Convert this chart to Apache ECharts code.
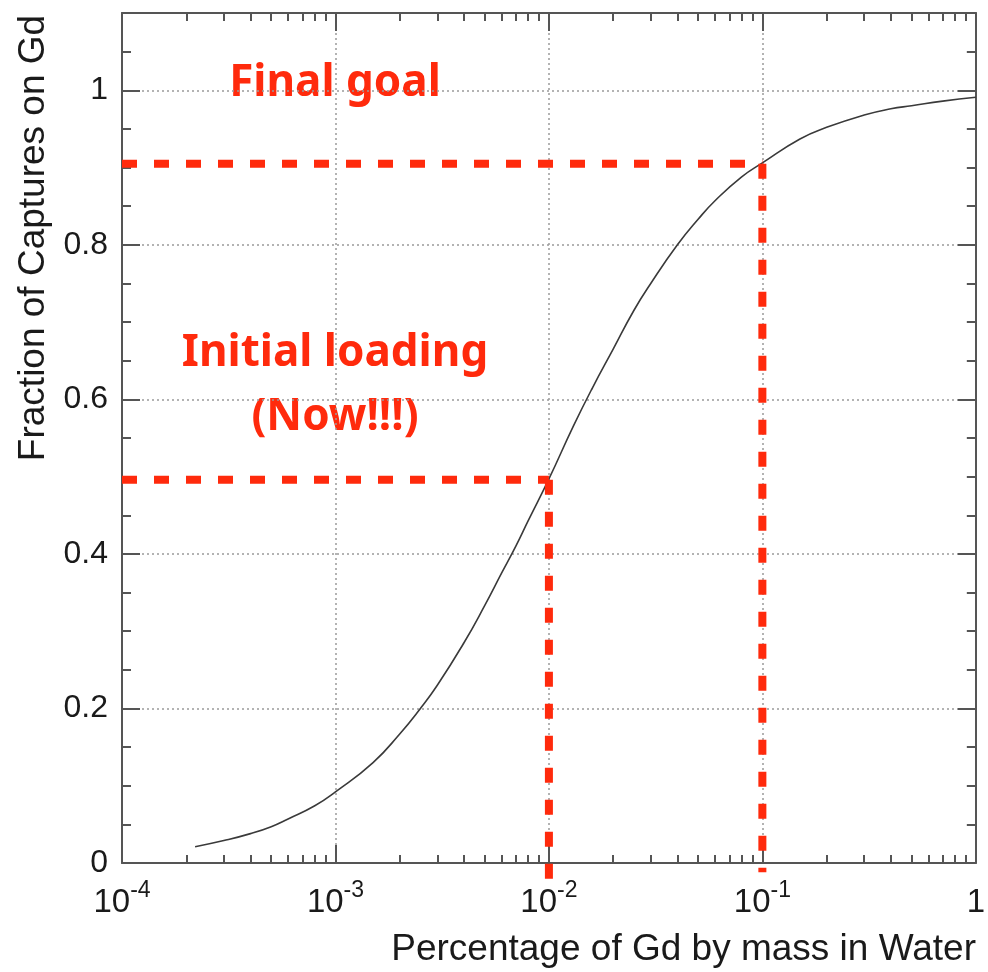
<!DOCTYPE html>
<html>
<head>
<meta charset="utf-8">
<script src="https://cdn.jsdelivr.net/npm/echarts@6/dist/echarts.min.js"></script>
<style>html,body{margin:0;padding:0;background:#fff}#c{width:988px;height:972px}</style>
</head>
<body>
<div id="c"></div>
<script>
// ---- data ----
const massPct = [2.2e-4, 3e-4, 4e-4, 5e-4, 6e-4, 8e-4, 1e-3, 1.5e-3, 2e-3, 2.5e-3, 3e-3, 4e-3, 5e-3, 6e-3, 7e-3, 8e-3, 1e-2, 1.3e-2, 1.6e-2, 2e-2, 2.5e-2, 3e-2, 4e-2, 5e-2, 6e-2, 8e-2, 0.1, 0.15, 0.2, 0.3, 0.4, 0.5, 0.7, 1];
const captureFrac = [0.021, 0.029, 0.038, 0.047, 0.057, 0.074, 0.092, 0.13, 0.167, 0.2, 0.23, 0.285, 0.333, 0.375, 0.41, 0.443, 0.497, 0.565, 0.615, 0.665, 0.715, 0.75, 0.8, 0.833, 0.857, 0.888, 0.906, 0.937, 0.952, 0.968, 0.976, 0.98, 0.986, 0.991];
const goalPoint = [0.1, 0.905];
const nowPoint = [0.01, 0.496];
const majorX = [1e-4, 1e-3, 1e-2, 1e-1, 1];
const minorX = [];
[1e-4, 1e-3, 1e-2, 1e-1].forEach(d => { for (let k = 2; k <= 9; k++) minorX.push(d * k); });
const majorY = [0, 0.2, 0.4, 0.6, 0.8, 1.0];
const minorY = [0.05, 0.1, 0.15, 0.25, 0.3, 0.35, 0.45, 0.5, 0.55, 0.65, 0.7, 0.75, 0.85, 0.9, 0.95, 1.05];
const xTitle = 'Percentage of Gd by mass in Water';
const yTitle = 'Fraction of Captures on Gd';
const noteGoal = 'Final goal';
const noteNow1 = 'Initial loading';
const noteNow2 = '(Now!!!)';

const FONT = 'Liberation Sans';
const RED = '#ff2a0c';
const AX = '#555';

function xAxisDef(pos, major, showLabel) {
  return {
    type: 'log', logBase: 10, min: 1e-4, max: 1, position: pos,
    axisLine: { show: major, onZero: false, lineStyle: { color: AX, width: 2 } },
    axisTick: { show: true, inside: true, length: major ? 18 : 8, customValues: major ? majorX : minorX, lineStyle: { color: AX, width: 2 } },
    minorTick: { show: false },
    splitLine: { show: major && showLabel, lineStyle: { color: '#9a9a9a', type: [2, 3], width: 1.5 } },
    axisLabel: showLabel ? {
      show: true, margin: 16, customValues: majorX,
      formatter: v => { const e = Math.round(Math.log10(v)); return e === 0 ? '{n|1}' : '{n|10}{s|' + e + '}'; },
      rich: {
        n: { fontSize: 33, fontFamily: FONT, color: '#1a1a1a', lineHeight: 40, verticalAlign: 'bottom' },
        s: { fontSize: 23, fontFamily: FONT, color: '#1a1a1a', lineHeight: 40, verticalAlign: 'top', padding: [0, 0, 14, 0] }
      }
    } : { show: false }
  };
}
function yAxisDef(pos, major, showLabel) {
  return {
    type: 'value', min: 0, max: 1.1, position: pos,
    axisLine: { show: major, onZero: false, lineStyle: { color: AX, width: 2 } },
    axisTick: { show: true, inside: true, length: major ? 18 : 9, customValues: major ? majorY : minorY, lineStyle: { color: AX, width: 2 } },
    minorTick: { show: false },
    splitLine: { show: major && showLabel, lineStyle: { color: '#9a9a9a', type: [2, 3], width: 1.5 } },
    axisLabel: showLabel ? {
      show: true, margin: 14, customValues: majorY, fontSize: 32, fontFamily: FONT, color: '#1a1a1a',
      formatter: v => String(+v.toFixed(1))
    } : { show: false }
  };
}

const chart = echarts.init(document.getElementById('c'), null, { renderer: 'canvas' });
const dashStyle = { color: RED, width: 8, type: [15, 17], dashOffset: 0 };
const noteStyle = { fontSize: 44, fontWeight: 'bold', fontFamily: 'Noto Sans', fill: RED, align: 'center', verticalAlign: 'middle' };
chart.setOption({
  animation: false,
  backgroundColor: '#fff',
  grid: { left: 122, right: 12, top: 13, bottom: 109, containLabel: false },
  xAxis: [xAxisDef('bottom', true, true), xAxisDef('bottom', false, false), xAxisDef('top', true, false), xAxisDef('top', false, false)],
  yAxis: [yAxisDef('left', true, true), yAxisDef('left', false, false), yAxisDef('right', true, false), yAxisDef('right', false, false)],
  series: [
    {
      type: 'line', xAxisIndex: 0, yAxisIndex: 0, smooth: true, symbol: 'none',
      lineStyle: { color: '#3a3a3a', width: 1.6 },
      data: massPct.map((x, i) => [x, captureFrac[i]])
    },
    { type: 'line', symbol: 'none', clip: false, lineStyle: dashStyle, data: [[1e-4, goalPoint[1]], [goalPoint[0], goalPoint[1]]] },
    { type: 'line', symbol: 'none', clip: false, lineStyle: dashStyle, data: [[goalPoint[0], goalPoint[1]], [goalPoint[0], -0.012]] },
    { type: 'line', symbol: 'none', clip: false, lineStyle: dashStyle, data: [[1e-4, nowPoint[1]], [nowPoint[0], nowPoint[1]]] },
    { type: 'line', symbol: 'none', clip: false, lineStyle: dashStyle, data: [[nowPoint[0], nowPoint[1]], [nowPoint[0], -0.032]] }
  ],
  graphic: [
    { type: 'text', x: 976, y: 950, style: { text: xTitle, fontSize: 37, fontFamily: FONT, fill: '#1a1a1a', align: 'right', verticalAlign: 'middle' } },
    { type: 'text', x: 34, y: 238, rotation: Math.PI / 2, style: { text: yTitle, fontSize: 37, fontFamily: FONT, fill: '#1a1a1a', align: 'center', verticalAlign: 'middle' } },
    { type: 'text', x: 335, y: 83, style: Object.assign({ text: noteGoal }, noteStyle) },
    { type: 'text', x: 335, y: 353, style: Object.assign({ text: noteNow1 }, noteStyle) },
    { type: 'text', x: 335, y: 417, style: Object.assign({ text: noteNow2 }, noteStyle) }
  ]
});
</script>
</body>
</html>
